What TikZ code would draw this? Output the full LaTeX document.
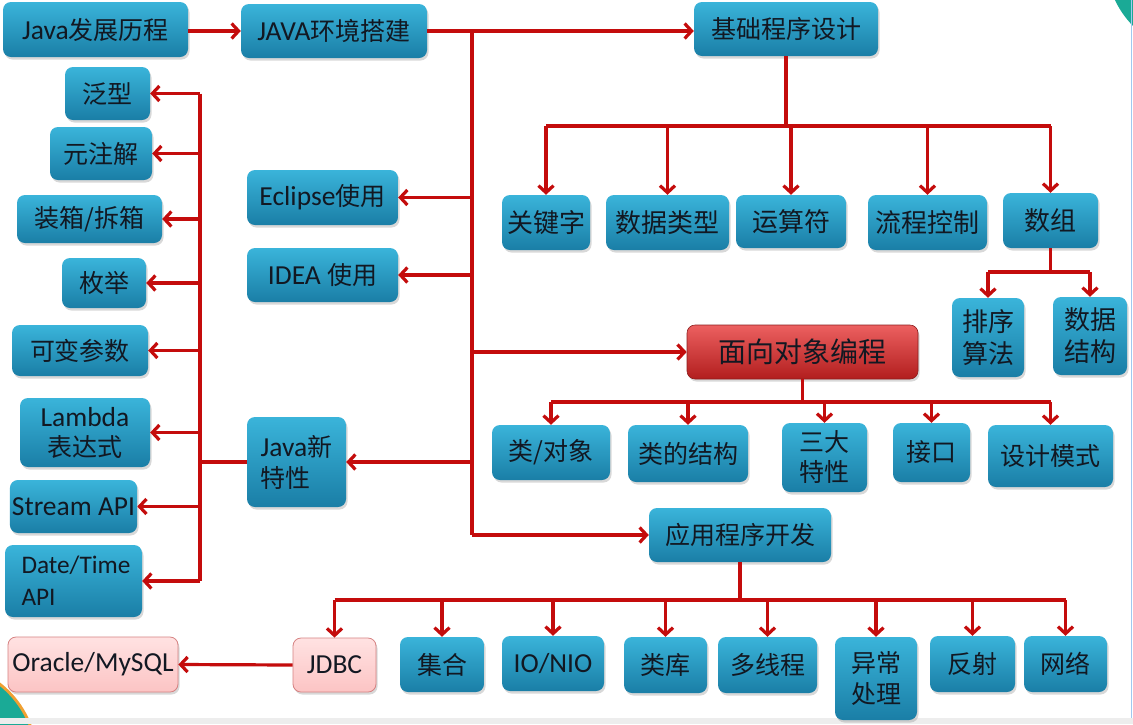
\documentclass[tikz,border=0pt]{standalone}
\usepackage{fontspec}
\setmainfont{Carlito}[Scale=1.1]
\newfontfamily\cjkfam{Noto Sans CJK SC}
\newcommand\zhx[1]{{\cjkfam #1}}
\usetikzlibrary{arrows.meta,shadows,calc}
\definecolor{lnred}{RGB}{196,12,12}
\definecolor{btop}{RGB}{58,180,218}
\definecolor{bbot}{RGB}{26,126,166}
\definecolor{txt}{RGB}{18,24,34}
\definecolor{rtop}{RGB}{236,96,96}
\definecolor{rbot}{RGB}{178,30,30}
\definecolor{rdraw}{RGB}{140,30,30}
\definecolor{ptop}{RGB}{255,226,226}
\definecolor{pbot}{RGB}{252,196,196}
\definecolor{pdraw}{RGB}{214,130,130}
\definecolor{decteal}{RGB}{26,170,150}
\definecolor{decorange}{RGB}{240,160,50}
\definecolor{edgeblue}{RGB}{160,200,240}
\tikzset{
  box/.style={rounded corners=8pt, top color=btop, bottom color=bbot, draw=none,
    text=txt, align=center, inner sep=2pt, font=\fontsize{25}{31}\selectfont,
    drop shadow={opacity=0.3, shadow xshift=1.5pt, shadow yshift=-2.5pt}},
  redbox/.style={box, top color=rtop, bottom color=rbot, draw=rdraw, line width=0.6pt},
  pinkbox/.style={box, top color=ptop, bottom color=pbot, draw=pdraw, line width=0.8pt},
  ln/.style={draw=lnred, line width=3.2pt},
  arr/.style={ln, -{Straight Barb[length=7pt,width=15pt]}},
}
\begin{document}
\begin{tikzpicture}[x=1pt,y=-1pt]
\useasboundingbox (0,0) rectangle (1133,724);
\fill[white] (0,0) rectangle (1133,724);
% decorations
\begin{scope}
\clip (0,0) rectangle (1133,724);
\fill[decorange] (-60,760) circle (98);
\fill[decteal] (-60,760) circle (95);
\fill[decteal] (1200,-40) circle (94);
\fill[black!7] (0,718) rectangle (1133,724);
\draw[edgeblue, line width=1.5pt] (1131.5,0) -- (1131.5,718);
\end{scope}

% nodes
\node[box, minimum width=185pt, minimum height=55pt] (hist) at (95.5,29.5) {Java\zhx{发展历程}};
\node[box, minimum width=186pt, minimum height=54pt] (jdk) at (334,31) {JAVA\zhx{环境搭建}};
\node[box, minimum width=184pt, minimum height=54pt] (base) at (786,29) {\zhx{基础程序设计}};
\node[box, minimum width=151pt, minimum height=55pt] (ecl) at (322.5,197.5) {Eclipse\zhx{使用}};
\node[box, minimum width=151pt, minimum height=54pt] (idea) at (322.5,275) {IDEA \zhx{使用}};
\node[redbox, minimum width=231pt, minimum height=54pt, font=\fontsize{28}{31}\selectfont] (oop) at (802.5,352) {\zhx{面向对象编程}};
\node[box, minimum width=99pt, minimum height=90pt, align=left] (jnew) at (296.5,462) {Java\zhx{新}\\\zhx{特性}};
\node[box, minimum width=182pt, minimum height=54pt] (app) at (740,535) {\zhx{应用程序开发}};

\node[box, minimum width=88pt, minimum height=55pt, font=\fontsize{26}{31}\selectfont] (kw) at (546,222.5) {\zhx{关键字}};
\node[box, minimum width=123pt, minimum height=55pt, font=\fontsize{26}{31}\selectfont] (dt) at (667.5,222.5) {\zhx{数据类型}};
\node[box, minimum width=110pt, minimum height=53pt, font=\fontsize{26}{31}\selectfont] (op) at (791,221.5) {\zhx{运算符}};
\node[box, minimum width=119pt, minimum height=55pt, font=\fontsize{26}{31}\selectfont] (flow) at (927.5,222.5) {\zhx{流程控制}};
\node[box, minimum width=95pt, minimum height=55pt, font=\fontsize{26}{31}\selectfont] (arrn) at (1050.5,220.5) {\zhx{数组}};
\node[box, minimum width=72pt, minimum height=79pt, font=\fontsize{26}{32}\selectfont] (sort) at (988,337.5) {\zhx{排序}\\\zhx{算法}};
\node[box, minimum width=74pt, minimum height=78pt, font=\fontsize{26}{32}\selectfont] (ds) at (1090,336) {\zhx{数据}\\\zhx{结构}};

\node[box, minimum width=118pt, minimum height=55pt] (cls) at (551,452.5) {\zhx{类/对象}};
\node[box, minimum width=120pt, minimum height=57pt] (cst) at (688,453.5) {\zhx{类的结构}};
\node[box, minimum width=85pt, minimum height=69pt, font=\fontsize{25}{30}\selectfont] (three) at (824.5,457.5) {\zhx{三大}\\\zhx{特性}};
\node[box, minimum width=77pt, minimum height=59pt] (itf) at (931.5,452.5) {\zhx{接口}};
\node[box, minimum width=125pt, minimum height=62pt] (dp) at (1050.5,456) {\zhx{设计模式}};

\node[pinkbox, minimum width=83pt, minimum height=54pt] (jdbc) at (334.5,665) {JDBC};
\node[box, minimum width=84pt, minimum height=55pt] (coll) at (442,664.5) {\zhx{集合}};
\node[box, minimum width=102pt, minimum height=55pt] (io) at (553,663.5) {IO/NIO};
\node[box, minimum width=83pt, minimum height=56pt] (lib) at (665.5,665) {\zhx{类库}};
\node[box, minimum width=99pt, minimum height=56pt] (thr) at (767.5,665) {\zhx{多线程}};
\node[box, minimum width=82pt, minimum height=83pt, font=\fontsize{25}{31}\selectfont] (exc) at (876,678.5) {\zhx{异常}\\\zhx{处理}};
\node[box, minimum width=85pt, minimum height=56pt] (refl) at (972.5,664) {\zhx{反射}};
\node[box, minimum width=83pt, minimum height=56pt] (net) at (1065.5,664) {\zhx{网络}};
\node[pinkbox, minimum width=170pt, minimum height=55pt] (ora) at (93,664.5) {Oracle/MySQL};

\node[box, minimum width=85pt, minimum height=53pt] (gen) at (107.5,93.5) {\zhx{泛型}};
\node[box, minimum width=102pt, minimum height=53pt] (anno) at (101,153.5) {\zhx{元注解}};
\node[box, minimum width=145pt, minimum height=48pt] (boxing) at (89.5,219) {\zhx{装箱/拆箱}};
\node[box, minimum width=84pt, minimum height=50pt] (enm) at (104,283) {\zhx{枚举}};
\node[box, minimum width=136pt, minimum height=51pt] (vararg) at (80,350.5) {\zhx{可变参数}};
\node[box, minimum width=130pt, minimum height=69pt, font=\fontsize{25}{30}\selectfont] (lam) at (85,432.5) {Lambda\\\zhx{表达式}};
\node[box, minimum width=127pt, minimum height=53pt] (strm) at (73.5,506.5) {Stream API};
\node[box, minimum width=137pt, minimum height=72pt, align=left, inner xsep=0pt, text width=104pt, font=\fontsize{23}{32}\selectfont] (date) at (73.5,581) {Date/Time\\API};

% bus coordinates
\coordinate (t1) at (472,31);
\coordinate (t2) at (472,535);
\coordinate (b1) at (0,126);
\coordinate (a1) at (0,272);
\coordinate (o1) at (0,402);
\coordinate (p1) at (0,600);
\coordinate (l1) at (200,0);

% connectors
\draw[arr] (hist.east |- jdk) -- (jdk.west);
\draw[arr] (jdk.east) -- (jdk.east -| base.west);
\draw[ln] (t1) -- (t2);
\draw[arr] (t1 |- ecl) -- (ecl.east);
\draw[arr] (t1 |- idea) -- (idea.east);
\draw[arr] (t1 |- oop) -- (oop.west);
\draw[arr] (t1 |- jnew) -- (jnew.east);
\draw[arr] (t2) -- (app.west);

\draw[ln] (base.south) -- (base.south |- b1);
\draw[ln] (kw.north |- b1) -- (arrn.north |- b1);
\foreach \n in {kw,dt,op,flow,arrn} \draw[arr] (\n.north |- b1) -- (\n.north);

\draw[ln] (arrn.south) -- (arrn.south |- a1);
\draw[ln] (sort.north |- a1) -- (ds.north |- a1);
\foreach \n in {sort,ds} \draw[arr] (\n.north |- a1) -- (\n.north);

\draw[ln] (oop.south) -- (oop.south |- o1);
\draw[ln] (cls.north |- o1) -- (dp.north |- o1);
\foreach \n in {cls,cst,three,itf,dp} \draw[arr] (\n.north |- o1) -- (\n.north);

\draw[ln] (app.south) -- (app.south |- p1);
\draw[ln] (jdbc.north |- p1) -- (net.north |- p1);
\foreach \n in {jdbc,coll,io,lib,thr,exc,refl,net} \draw[arr] (\n.north |- p1) -- (\n.north);

\draw[arr] (jdbc.west) -- (ora.east);

\draw[ln] (jnew.west) -- (jnew.west -| l1);
\draw[ln] (l1 |- gen) -- (l1 |- date);
\foreach \n in {gen,anno,boxing,enm,vararg,lam,strm,date} \draw[arr] (l1 |- \n) -- (\n.east);
\end{tikzpicture}
\end{document}
